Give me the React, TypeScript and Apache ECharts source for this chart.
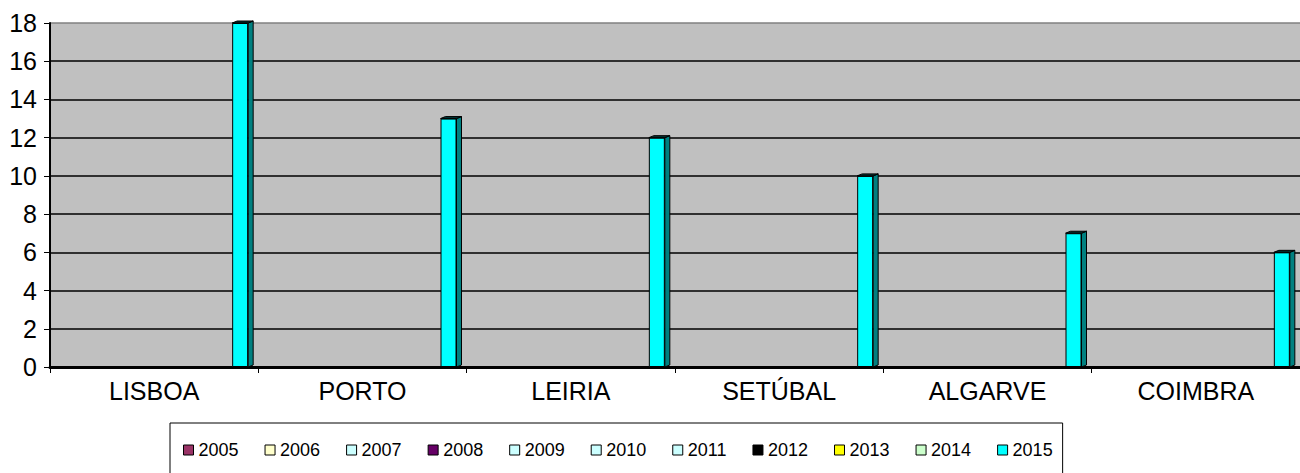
import React, { useEffect, useRef } from "react";
import * as echarts from "echarts";

const categories = ["LISBOA", "PORTO", "LEIRIA", "SETÚBAL", "ALGARVE", "COIMBRA"];
const years = ["2005", "2006", "2007", "2008", "2009", "2010", "2011", "2012", "2013", "2014", "2015"];
const yearColors = ["#993366", "#FFFFCC", "#CCFFFF", "#660066", "#CCFFFF", "#CCFFFF", "#CCFFFF", "#000000", "#FFFF00", "#CCFFCC", "#00FFFF"];
const values2005 = [0, 0, 0, 0, 0, 0];
const values2006 = [0, 0, 0, 0, 0, 0];
const values2007 = [0, 0, 0, 0, 0, 0];
const values2008 = [0, 0, 0, 0, 0, 0];
const values2009 = [0, 0, 0, 0, 0, 0];
const values2010 = [0, 0, 0, 0, 0, 0];
const values2011 = [0, 0, 0, 0, 0, 0];
const values2012 = [0, 0, 0, 0, 0, 0];
const values2013 = [0, 0, 0, 0, 0, 0];
const values2014 = [0, 0, 0, 0, 0, 0];
const values2015 = [18, 13, 12, 10, 7, 6];
const seriesValues = [values2005, values2006, values2007, values2008, values2009, values2010, values2011, values2012, values2013, values2014, values2015];
const yTicks = [0, 2, 4, 6, 8, 10, 12, 14, 16, 18];

const FONT = "'Liberation Sans', Arial, sans-serif";
const BAR_W = 16;
const BAR_GAP = 1.2;
const DEPTH_X = 5;
const DEPTH_Y = 2;

export default function App() {
  const ref = useRef<HTMLDivElement>(null);
  useEffect(() => {
    if (!ref.current) return;
    const chart = echarts.init(ref.current, null, { renderer: "svg" });
    const halfCluster = (years.length * BAR_W + (years.length - 1) * BAR_GAP) / 2;

    const barSeries: any[] = years.map((y, i) => ({
      name: y,
      type: "bar",
      data: seriesValues[i],
      barWidth: BAR_W,
      barGap: ((BAR_GAP / BAR_W) * 100).toFixed(2) + "%",
      itemStyle: { color: yearColors[i], borderColor: "#000", borderWidth: 1 },
      emphasis: { disabled: true },
    }));

    const sideSeries = {
      name: "side",
      type: "custom",
      data: values2015.map((v, i) => [i, v]),
      z: 3,
      renderItem: (params: any, api: any) => {
        const ci = api.value(0);
        const v = api.value(1);
        if (!v) return null;
        const top = api.coord([ci, v]);
        const base = api.coord([ci, 0]);
        const right = top[0] + halfCluster;
        const left = right - BAR_W;
        return {
          type: "group",
          children: [
            {
              type: "polygon",
              shape: {
                points: [
                  [right, top[1]],
                  [right + DEPTH_X, top[1] - DEPTH_Y],
                  [right + DEPTH_X, base[1] - DEPTH_Y],
                  [right, base[1]],
                ],
              },
              style: { fill: "#008080", stroke: "#000", lineWidth: 1 },
            },
            {
              type: "polygon",
              shape: {
                points: [
                  [left, top[1]],
                  [left + DEPTH_X, top[1] - DEPTH_Y],
                  [right + DEPTH_X, top[1] - DEPTH_Y],
                  [right, top[1]],
                ],
              },
              style: { fill: "#003333", stroke: "#000", lineWidth: 1 },
            },
          ],
        };
      },
    };

    const gridColors = yTicks.map((t, i) => (i === yTicks.length - 1 ? "#808080" : "#000000"));

    chart.setOption({
      animation: false,
      textStyle: { fontFamily: FONT },
      grid: { left: 50, right: 0, top: 23, bottom: 106, show: true, backgroundColor: "#C0C0C0", borderWidth: 0 },
      legend: {
        data: years,
        left: 170,
        top: 423,
        orient: "horizontal",
        padding: [18, 10, 20, 13],
        itemGap: 26,
        itemWidth: 10,
        itemHeight: 10,
        icon: "rect",
        borderColor: "#000",
        borderWidth: 1,
        itemStyle: { borderColor: "#000", borderWidth: 1 },
        textStyle: { fontFamily: FONT, fontSize: 18, color: "#000" },
        selectedMode: false,
      },
      xAxis: {
        type: "category",
        data: categories,
        boundaryGap: true,
        axisLine: { lineStyle: { color: "#000", width: 3 } },
        axisTick: { show: true, length: 6, lineStyle: { color: "#000", width: 1 } },
        axisLabel: { fontFamily: FONT, fontSize: 25, color: "#000", margin: 11 },
      },
      yAxis: {
        type: "value",
        min: 0,
        max: 18,
        interval: 2,
        axisLine: { show: true, lineStyle: { color: "#000", width: 2 } },
        axisTick: { show: true, length: 6, lineStyle: { color: "#000", width: 1 } },
        axisLabel: { fontFamily: FONT, fontSize: 25, color: "#000", margin: 13 },
        splitLine: { show: true, lineStyle: { color: gridColors, width: 1.5 } },
      },
      series: [...barSeries, sideSeries],
    });
    return () => chart.dispose();
  }, []);
  return <div ref={ref} style={{ position: "absolute", left: 0, top: 0, width: 1300, height: 473 }} />;
}
